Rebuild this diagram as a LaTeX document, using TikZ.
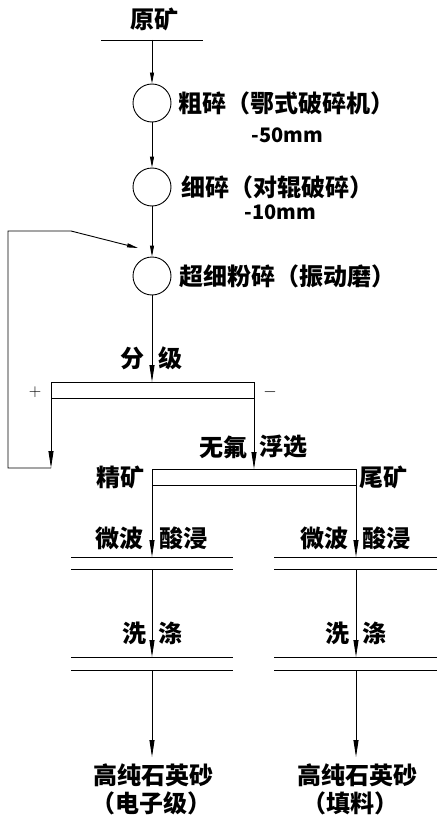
\documentclass[tikz,border=0pt]{standalone}
\usepackage{fontspec}
\newfontfamily\cjk{Noto Sans CJK SC}
\usetikzlibrary{arrows.meta}
\begin{document}
\begin{tikzpicture}[x=1pt,y=-1pt,line width=0.9pt,
  lbl/.style={font=\cjk\bfseries\fontsize{24}{26}\selectfont,inner sep=0pt},
  num/.style={font=\cjk\bfseries\fontsize{20}{22}\selectfont,inner sep=0pt},
  sgn/.style={font=\fontsize{18}{20}\selectfont,inner sep=0pt},
  mill/.style={circle,draw,minimum size=38pt,inner sep=0pt},
  flow/.style={-{Triangle[length=17pt,width=5pt]}},
  flows/.style={-{Triangle[length=11pt,width=4pt]}}]
\useasboundingbox (0,0) rectangle (445,824);
% raw ore
\node[lbl] (ore) at (154,19) {原矿};
\coordinate (oreL) at (101,40);
\coordinate (oreR) at (203,40);
\coordinate (ore0) at (152,40);
\draw (oreL) -- (oreR);
% crushing stages
\node[mill] (c1) at (152,103) {};
\node[lbl,anchor=west] (t1) at (178,103) {粗碎（鄂式破碎机）};
\node[num,anchor=west] (n1) at (251,135) {-50mm};
\node[mill] (c2) at (152,187) {};
\node[lbl,anchor=west] (t2) at (181,187) {细碎（对辊破碎）};
\node[num,anchor=west] (n2) at (244,212) {-10mm};
\node[mill] (c3) at (152,276) {};
\node[lbl,anchor=west] (t3) at (179,276) {超细粉碎（振动磨）};
\draw[flows] (ore0) -- (c1.north);
\draw[flows] (c1.south) -- (c2.north);
\draw[flows] (c2.south) -- (c3.north);
% classification
\coordinate (sTL) at (51,382);
\coordinate (sTR) at (254,382);
\coordinate (sBL) at (51,398);
\coordinate (sBR) at (254,398);
\coordinate (sTop) at (152,382);
\draw (sTL) -- (sTR);
\draw (sBL) -- (sBR);
\draw[flow] (c3.south) -- (sTop);
\node[lbl] (fj1) at (132,358) {分};
\node[lbl] (fj2) at (170,358) {级};
\node[sgn] (plus) at (35,392) {$+$};
\node[sgn] (minus) at (270,392) {$-$};
% oversize return
\coordinate (plusOut) at (51,468);
\coordinate (fb1) at (8,468);
\coordinate (fb2) at (8,231);
\coordinate (fb3) at (71,231);
\coordinate (fbEnd) at (138,248);
\draw[flow] (sTL) -- (plusOut);
\draw[flows] (plusOut) -- (fb1) -- (fb2) -- (fb3) -- (fbEnd);
% flotation
\coordinate (fIn) at (254,469);
\coordinate (fTL) at (152,469);
\coordinate (fTR) at (356,469);
\coordinate (fBL) at (152,485);
\coordinate (fBR) at (356,485);
\draw[flow] (sTR) -- (fIn);
\draw (fTL) -- (fTR);
\draw (fBL) -- (fBR);
\node[lbl] (wf1) at (223,447) {无氟};
\node[lbl] (wf2) at (283,447) {浮选};
\node[lbl] (jk) at (120,477) {精矿};
\node[lbl] (wk) at (383,477) {尾矿};
% left branch
\coordinate (La1) at (152,557);
\coordinate (La2) at (152,569);
\coordinate (La1L) at (71,557);
\coordinate (La1R) at (233,557);
\coordinate (La2L) at (71,569);
\coordinate (La2R) at (233,569);
\coordinate (Lb1) at (152,657);
\coordinate (Lb2) at (152,670);
\coordinate (Lb1L) at (71,657);
\coordinate (Lb1R) at (233,657);
\coordinate (Lb2L) at (71,670);
\coordinate (Lb2R) at (233,670);
\coordinate (Lend) at (152,757);
\draw[flow] (fTL) -- (La1);
\draw (La1L) -- (La1R);
\draw (La2L) -- (La2R);
\draw[flow] (La2) -- (Lb1);
\draw (Lb1L) -- (Lb1R);
\draw (Lb2L) -- (Lb2R);
\draw[flow] (Lb2) -- (Lend);
\node[lbl] (Lmw1) at (119,538) {微波};
\node[lbl] (Lmw2) at (183,538) {酸浸};
\node[lbl] (Lx1) at (134,633) {洗};
\node[lbl] (Lx2) at (170,633) {涤};
\node[lbl] (Lp1) at (153,775) {高纯石英砂};
\node[lbl] (Lp2) at (151,803) {（电子级）};
% right branch
\coordinate (Ra1) at (356,557);
\coordinate (Ra2) at (356,569);
\coordinate (Ra1L) at (274,557);
\coordinate (Ra1R) at (437,557);
\coordinate (Ra2L) at (274,569);
\coordinate (Ra2R) at (437,569);
\coordinate (Rb1) at (356,657);
\coordinate (Rb2) at (356,670);
\coordinate (Rb1L) at (274,657);
\coordinate (Rb1R) at (437,657);
\coordinate (Rb2L) at (274,670);
\coordinate (Rb2R) at (437,670);
\coordinate (Rend) at (356,757);
\draw[flow] (fTR) -- (Ra1);
\draw (Ra1L) -- (Ra1R);
\draw (Ra2L) -- (Ra2R);
\draw[flow] (Ra2) -- (Rb1);
\draw (Rb1L) -- (Rb1R);
\draw (Rb2L) -- (Rb2R);
\draw[flow] (Rb2) -- (Rend);
\node[lbl] (Rmw1) at (324,538) {微波};
\node[lbl] (Rmw2) at (386,538) {酸浸};
\node[lbl] (Rx1) at (337,633) {洗};
\node[lbl] (Rx2) at (374,633) {涤};
\node[lbl] (Rp1) at (357,775) {高纯石英砂};
\node[lbl] (Rp2) at (350,803) {（填料）};
\end{tikzpicture}
\end{document}
